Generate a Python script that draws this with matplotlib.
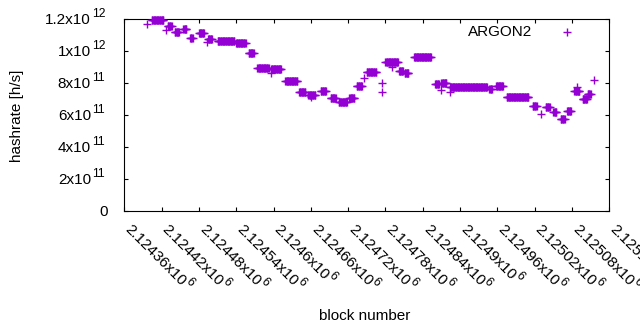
import numpy as np
import matplotlib
matplotlib.use("Agg")
import matplotlib.pyplot as plt

# Runs of blocks with a constant hashrate: start block, end block, hashrate (h/s)
run_start = [2124404, 2124430, 2124441, 2124455, 2124466, 2124480, 2124495, 2124510,
             2124540, 2124560, 2124574, 2124596, 2124619, 2124641, 2124656, 2124676,
             2124692, 2124705, 2124722, 2124734, 2124750, 2124780, 2124802, 2124811,
             2124826, 2124860, 2124870, 2124884, 2124947, 2124958, 2124975, 2125017,
             2125038, 2125050, 2125062, 2125072, 2125084, 2125097, 2125105]
run_end = [2124423, 2124436, 2124448, 2124460, 2124470, 2124488, 2124501, 2124537,
           2124555, 2124568, 2124592, 2124612, 2124638, 2124651, 2124667, 2124684,
           2124700, 2124718, 2124730, 2124742, 2124765, 2124800, 2124808, 2124817,
           2124853, 2124866, 2124878, 2124943, 2124951, 2124969, 2125010, 2125023,
           2125044, 2125055, 2125068, 2125078, 2125092, 2125104, 2125110]
run_rate = [1.195e12, 1.157e12, 1.116e12, 1.135e12, 1.082e12, 1.114e12, 1.076e12, 1.062e12,
            1.050e12, 0.990e12, 0.893e12, 0.888e12, 0.815e12, 0.742e12, 0.724e12, 0.751e12,
            0.709e12, 0.680e12, 0.708e12, 0.780e12, 0.866e12, 0.931e12, 0.874e12, 0.860e12,
            0.965e12, 0.793e12, 0.800e12, 0.777e12, 0.760e12, 0.782e12, 0.713e12, 0.658e12,
            0.653e12, 0.616e12, 0.578e12, 0.622e12, 0.752e12, 0.697e12, 0.729e12]

# Isolated blocks
single_block = [2124397, 2124427, 2124493, 2124596, 2124661, 2124745, 2124774, 2124774,
                2124790, 2124869, 2124884, 2125030, 2125088, 2125116]
single_rate = [1.170e12, 1.130e12, 1.055e12, 0.865e12, 0.710e12, 0.830e12, 0.802e12, 0.746e12,
               0.903e12, 0.756e12, 0.746e12, 0.608e12, 0.777e12, 0.817e12]

xtick_vals = [2124360, 2124420, 2124480, 2124540, 2124600, 2124660, 2124720,
              2124780, 2124840, 2124900, 2124960, 2125020, 2125080, 2125140]
xtick_base = ["2.12436", "2.12442", "2.12448", "2.12454", "2.1246", "2.12466", "2.12472",
              "2.12478", "2.12484", "2.1249", "2.12496", "2.12502", "2.12508", "2.12514"]
xtick_exp = "6"
ytick_vals = [0, 2e11, 4e11, 6e11, 8e11, 1e12, 1.2e12]
ytick_base = ["0", "2", "4", "6", "8", "1", "1.2"]
ytick_exp = ["", "11", "11", "11", "11", "12", "12"]

# expand runs into per-block points
bx, by = [], []
for s, e, r in zip(run_start, run_end, run_rate):
    blocks = list(range(s, e + 1))
    bx.extend(blocks)
    by.extend([r] * len(blocks))
bx.extend(single_block)
by.extend(single_rate)

plt.rcParams['font.family'] = ['Liberation Sans', 'DejaVu Sans']

W, H = 640, 330
FS = 11
FS_SUP = 8.8
fig = plt.figure(figsize=(W / 100, H / 100), dpi=100)
L, R, T, B = 124.3, 609.3, 19.0, 211.0
ax = fig.add_axes([L / W, 1 - B / H, (R - L) / W, (B - T) / H])

color = '#9400D3'
ax.plot(bx, by, linestyle='none', marker='+', markersize=6, markeredgewidth=1,
        color=color, clip_on=False, zorder=3)

ax.set_xlim(2124360, 2125140)
ax.set_ylim(0, 1.2e12)
ax.set_xticks(xtick_vals)
ax.set_yticks(ytick_vals)
ax.set_xticklabels([])
ax.set_yticklabels([])
ax.tick_params(direction='in', top=True, right=True, length=3, width=0.8, color='black')
for sp in ax.spines.values():
    sp.set_linewidth(0.8)

renderer = fig.canvas.get_renderer()


def px_text(x, y, s, **kw):
    # x, y in image pixels from top-left
    return fig.text(x / W, 1 - y / H, s, **kw)


def text_width(s, size):
    t = fig.text(0, 0, s, fontsize=size)
    w = t.get_window_extent(renderer).width
    t.remove()
    return w


# y tick labels
for v, b, e in zip(ytick_vals, ytick_base, ytick_exp):
    py = B - (v / 1.2e12) * (B - T)
    if e == "":
        px_text(108, py + 5, b, ha='right', va='baseline', fontsize=FS)
    else:
        px_text(91, py + 5, b + "x10", ha='right', va='baseline', fontsize=FS)
        px_text(91.8, py - 1.7, e, ha='left', va='baseline', fontsize=FS_SUP)

# x tick labels rotated -45 deg
c = np.cos(np.radians(45))
for v, b in zip(xtick_vals, xtick_base):
    tx = L + (v - 2124360) / 780 * (R - L)
    p0x, p0y = tx, 230.5
    s = b + "x10"
    px_text(p0x, p0y, s, ha='left', va='baseline', rotation=-45,
            rotation_mode='anchor', fontsize=FS)
    w = text_width(s, FS)
    raise_ = 6.5
    sx = p0x + w * c + raise_ * c
    sy = p0y + w * c - raise_ * c
    px_text(sx, sy, xtick_exp, ha='left', va='baseline', rotation=-45,
            rotation_mode='anchor', fontsize=FS_SUP)

# axis labels
px_text(365, 316, 'block number', ha='center', va='center', fontsize=FS)
px_text(16.7, 115.5, 'hashrate [h/s]', ha='center', va='center', rotation=90, fontsize=FS)

# legend
px_text(532, 32.3, 'ARGON2', ha='right', va='center', fontsize=FS)
lx = 2124360 + (567.4 - L) / (R - L) * 780
ly = (B - 32.3) / (B - T) * 1.2e12
ax.plot([lx], [ly], linestyle='none', marker='+', markersize=6, markeredgewidth=1,
        color=color, clip_on=False)

fig.savefig('out.png', dpi=100)
